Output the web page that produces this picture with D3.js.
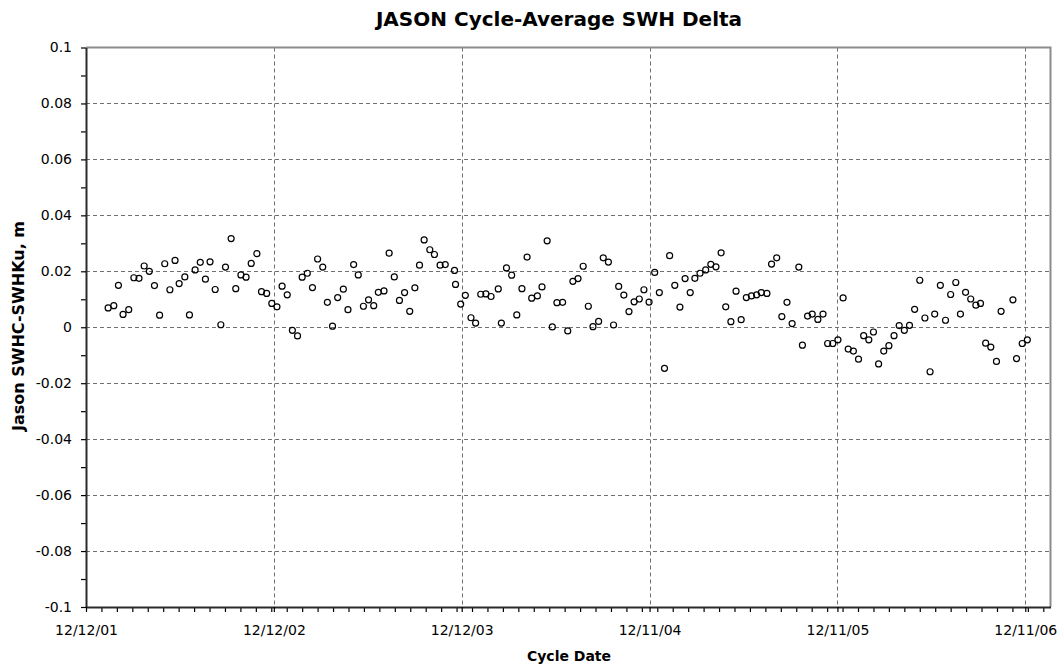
<!DOCTYPE html>
<html>
<head>
<meta charset="utf-8">
<script src="https://cdn.jsdelivr.net/npm/d3@7"></script>
<style>
  body { margin: 0; background: #fff; }
  svg { display: block; font-family: "DejaVu Sans", Verdana, sans-serif; }
</style>
</head>
<body>
<svg id="chart" width="1064" height="669"></svg>
<script>
//========================== Data ================================

// axis starts on 12/12/01, each point is one cycle average (days after the start)
let startLabel = '12/12/01',
    axisSpanDays = 1874;

let cycleDays = [
  43, 54, 63, 72, 83, 93, 103, 113, 123, 133, 143, 153, 163, 173, 181, 192, 201, 212, 222, 232,
  241, 251, 262, 271, 282, 291, 301, 311, 321, 332, 341, 351, 361, 371,
  381, 391, 401, 411, 420, 430, 440, 450, 460, 469, 479, 489, 500, 509, 520, 529, 539, 549, 559, 568,
  579, 589, 599, 609, 619, 629, 639, 648, 657, 668, 677, 688, 698, 716, 718, 728, 737,
  748, 757, 767, 777, 787, 801, 807, 817, 827, 837, 847, 857, 866, 877, 886, 896, 906, 915, 926, 936,
  946, 956, 966, 976, 985, 996, 1005, 1015, 1025, 1035, 1045, 1055, 1065, 1075, 1084, 1094, 1105, 1114,
  1124, 1134, 1144, 1154, 1164, 1174, 1183, 1193, 1204, 1214, 1224, 1234, 1243, 1253, 1263, 1273, 1283,
  1293, 1303, 1312, 1323, 1332, 1342, 1352, 1362, 1372, 1385, 1392, 1402, 1411, 1422, 1432, 1441, 1451,
  1461, 1471,
  1481, 1491, 1501, 1511, 1521, 1530, 1540, 1550, 1560, 1570, 1580, 1590, 1600, 1610, 1620, 1630, 1640,
  1649, 1660, 1670, 1680, 1690, 1699, 1709, 1719, 1729, 1738, 1748, 1758, 1769, 1778, 1801, 1808, 1819, 1829
];

// Jason SWHC - SWHKu, m
let swhDelta = [
  0.0069, 0.0077, 0.0150, 0.0046, 0.0063, 0.0177, 0.0175, 0.0219, 0.0200, 0.0149, 0.0043, 0.0227,
  0.0134, 0.0239, 0.0156, 0.0180, 0.0044, 0.0205, 0.0232, 0.0172, 0.0234, 0.0135, 0.0009, 0.0215,
  0.0317, 0.0138, 0.0187, 0.0179, 0.0228, 0.0263, 0.0127, 0.0121, 0.0085, 0.0073,
  0.0147, 0.0116, -0.0011, -0.0031, 0.0179, 0.0193, 0.0142, 0.0244, 0.0215, 0.0089, 0.0004, 0.0106,
  0.0136, 0.0063, 0.0224, 0.0187, 0.0075, 0.0098, 0.0077, 0.0125, 0.0130, 0.0265, 0.0180, 0.0096,
  0.0124, 0.0057, 0.0141, 0.0222, 0.0312, 0.0277, 0.0260, 0.0222, 0.0224, 0.0203, 0.0153, 0.0083, 0.0114,
  0.0034, 0.0015, 0.0118, 0.0119, 0.0110, 0.0137, 0.0015, 0.0212, 0.0186, 0.0044, 0.0138, 0.0251,
  0.0104, 0.0112, 0.0144, 0.0309, 0.0001, 0.0088, 0.0089, -0.0013, 0.0164, 0.0174, 0.0218, 0.0075,
  0.0002, 0.0021, 0.0248, 0.0233, 0.0008, 0.0146, 0.0115, 0.0056, 0.0091, 0.0101, 0.0134, 0.0090, 0.0196, 0.0124,
  -0.0147, 0.0256, 0.0150, 0.0072, 0.0174, 0.0124, 0.0175, 0.0193, 0.0205, 0.0225, 0.0216, 0.0266,
  0.0073, 0.0020, 0.0129, 0.0027, 0.0106, 0.0112, 0.0116, 0.0124, 0.0121, 0.0226, 0.0248, 0.0038,
  0.0089, 0.0013, 0.0215, -0.0064, 0.0040, 0.0047, 0.0028, 0.0047, -0.0058, -0.0058, -0.0045, 0.0105,
  -0.0078, -0.0085, -0.0114, -0.0030, -0.0045, -0.0017, -0.0131, -0.0085, -0.0066, -0.0030, 0.0006,
  -0.0011, 0.0007, 0.0064, 0.0168, 0.0033, -0.0159, 0.0047, 0.0150, 0.0025, 0.0117, 0.0160, 0.0047,
  0.0125, 0.0101, 0.0079, 0.0085, -0.0057, -0.0071, -0.0122, 0.0057, 0.0098, -0.0112, -0.0058, -0.0045
];

let xTickLabels = ['12/12/01', '12/12/02', '12/12/03', '12/11/04', '12/11/05', '12/11/06'];
let yTicks = [-0.1, -0.08, -0.06, -0.04, -0.02, 0, 0.02, 0.04, 0.06, 0.08, 0.1];
let yMinorTicks = [-0.09, -0.07, -0.05, -0.03, -0.01, 0.01, 0.03, 0.05, 0.07, 0.09];

//========================== Chart ================================

(function() {

  let svg = d3.select('#chart'),
      left = 86, right = 1050.5, top = 47.5, bottom = 607,
      parse = d3.timeParse('%m/%d/%y'),
      fmt = d3.timeFormat('%m/%d/%y'),
      start = parse(startLabel)

  let x = d3.scaleTime()
    .domain([start, d3.timeDay.offset(start, axisSpanDays)])
    .range([left, right])

  let y = d3.scaleLinear()
    .domain([-0.1, 0.1])
    .range([bottom, top])

  let xMajor = xTickLabels.map(parse)
  // minor ticks every 30 days from the axis start
  let xMinor = d3.range(30, axisSpanDays, 30).map(d => d3.timeDay.offset(start, d))

  let points = cycleDays.map((d, i) => ({ date: d3.timeDay.offset(start, d), value: swhDelta[i] }))

  // dashed grid
  let grid = svg.append('g')
    .attr('stroke', '#707070')
    .attr('stroke-width', 1)
    .attr('stroke-dasharray', '4,3')

  grid.selectAll('.gx')
    .data(xMajor.slice(1))
    .enter().append('line')
    .attr('x1', d => Math.round(x(d)) + 0.5)
    .attr('x2', d => Math.round(x(d)) + 0.5)
    .attr('y1', top)
    .attr('y2', bottom)

  grid.selectAll('.gy')
    .data(yTicks.slice(1, -1))
    .enter().append('line')
    .attr('x1', left)
    .attr('x2', right)
    .attr('y1', d => Math.round(y(d)) + 0.5)
    .attr('y2', d => Math.round(y(d)) + 0.5)

  // plot frame, top and right in grey
  svg.append('path')
    .attr('d', `M${left},${top}H${right}V${bottom}`)
    .attr('fill', 'none')
    .attr('stroke', '#8c8c8c')
    .attr('stroke-width', 2)

  let styleAxis = (g) => {
    g.attr('font-family', null).attr('font-size', null)
    g.select('.domain').attr('stroke', '#2b2b2b').attr('stroke-width', 2)
    g.selectAll('.tick line').attr('stroke', '#000').attr('stroke-width', 1.2)
    g.selectAll('.tick text').attr('fill', '#000').style('font-size', '14px')
  }

  // minor ticks first so the main axis line sits on top
  svg.append('g')
    .attr('transform', `translate(${left},0)`)
    .call(d3.axisLeft(y).tickValues(yMinorTicks).tickSize(5).tickFormat(''))
    .call(g => g.select('.domain').remove())
    .call(g => g.selectAll('.tick line').attr('stroke', '#000').attr('stroke-width', 1.2))

  svg.append('g')
    .attr('transform', `translate(0,${bottom})`)
    .call(d3.axisBottom(x).tickValues(xMinor).tickSize(5).tickFormat(''))
    .call(g => g.select('.domain').remove())
    .call(g => g.selectAll('.tick line').attr('stroke', '#000').attr('stroke-width', 1.2))

  svg.append('g')
    .attr('transform', `translate(${left},0)`)
    .call(d3.axisLeft(y).tickValues(yTicks).tickSize(5).tickSizeOuter(0).tickPadding(9)
      .tickFormat(d => String(+d.toFixed(2))))
    .call(styleAxis)

  svg.append('g')
    .attr('transform', `translate(0,${bottom})`)
    .call(d3.axisBottom(x).tickValues(xMajor).tickSize(5).tickSizeOuter(0).tickPadding(13)
      .tickFormat(fmt))
    .call(styleAxis)

  // open circle markers
  svg.append('g')
    .selectAll('circle')
    .data(points)
    .enter().append('circle')
    .attr('cx', d => x(d.date))
    .attr('cy', d => y(d.value))
    .attr('r', 3)
    .attr('fill', 'none')
    .attr('stroke', '#000')
    .attr('stroke-width', 1.2)

  // titles
  svg.append('text')
    .attr('x', 559)
    .attr('y', 26)
    .attr('text-anchor', 'middle')
    .attr('font-weight', 'bold')
    .attr('font-size', 20)
    .text('JASON Cycle-Average SWH Delta')

  svg.append('text')
    .attr('x', 569)
    .attr('y', 661)
    .attr('text-anchor', 'middle')
    .attr('font-weight', 'bold')
    .attr('font-size', 14)
    .text('Cycle Date')

  svg.append('text')
    .attr('transform', 'translate(24,326) rotate(-90)')
    .attr('text-anchor', 'middle')
    .attr('font-weight', 'bold')
    .attr('font-size', 16)
    .text('Jason SWHC-SWHKu, m')

})()
</script>
</body>
</html>
